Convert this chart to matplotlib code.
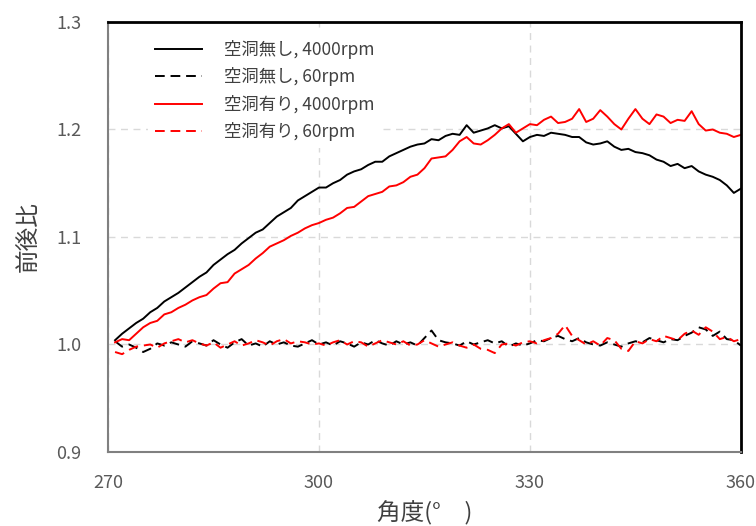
import numpy as np
import matplotlib
matplotlib.use("Agg")
import matplotlib.pyplot as plt

plt.rcParams['font.family'] = ['Noto Sans CJK JP', 'DejaVu Sans']

# angle (deg), 1 deg steps
angle = np.arange(271, 361)

black_4000 = [1.004, 1.010, 1.015, 1.020, 1.024, 1.030, 1.034, 1.040, 1.044, 1.048,
              1.053, 1.058, 1.063, 1.067, 1.074, 1.079, 1.084, 1.088, 1.094, 1.099,
              1.104, 1.107, 1.113, 1.119, 1.123, 1.127, 1.134, 1.138, 1.142, 1.146,
              1.146, 1.150, 1.153, 1.158, 1.161, 1.163, 1.167, 1.170, 1.170, 1.175,
              1.178, 1.181, 1.184, 1.186, 1.187, 1.191, 1.190, 1.194, 1.196, 1.195,
              1.204, 1.197, 1.199, 1.201, 1.204, 1.201, 1.203, 1.196, 1.189, 1.193,
              1.195, 1.194, 1.197, 1.196, 1.195, 1.193, 1.193, 1.188, 1.186, 1.187,
              1.189, 1.184, 1.181, 1.182, 1.179, 1.178, 1.176, 1.172, 1.170, 1.166,
              1.168, 1.164, 1.166, 1.161, 1.158, 1.156, 1.153, 1.148, 1.141, 1.145]

black_60 = [1.003, 0.998, 1.000, 0.997, 0.993, 0.996, 1.001, 0.999, 1.002, 1.000,
            0.998, 1.003, 1.001, 0.999, 1.004, 1.000, 0.997, 1.002, 1.005, 0.999,
            1.001, 0.998, 1.003, 1.000, 1.002, 0.999, 0.998, 1.001, 1.004, 1.000,
            1.002, 0.999, 1.003, 1.001, 0.998, 1.002, 1.000, 1.004, 1.001, 0.999,
            1.003, 1.000, 1.002, 0.999, 1.006, 1.013, 1.004, 1.002, 1.001, 0.999,
            1.003, 1.000, 1.002, 1.004, 1.001, 1.003, 0.998, 1.001, 0.999, 1.001,
            1.004, 1.003, 1.006, 1.008, 1.005, 1.003, 1.006, 1.002, 1.000, 0.999,
            1.002, 1.000, 0.998, 1.001, 1.003, 1.002, 1.006, 1.004, 1.002, 1.005,
            1.004, 1.008, 1.011, 1.016, 1.014, 1.008, 1.012, 1.005, 1.004, 0.999]

red_4000 = [1.002, 1.005, 1.004, 1.010, 1.016, 1.020, 1.022, 1.028, 1.030, 1.034,
            1.037, 1.041, 1.044, 1.046, 1.052, 1.057, 1.058, 1.066, 1.070, 1.074,
            1.080, 1.085, 1.091, 1.094, 1.097, 1.101, 1.104, 1.108, 1.111, 1.113,
            1.116, 1.118, 1.122, 1.127, 1.128, 1.133, 1.138, 1.140, 1.142, 1.147,
            1.148, 1.151, 1.156, 1.158, 1.164, 1.173, 1.174, 1.175, 1.181, 1.189,
            1.193, 1.187, 1.186, 1.190, 1.195, 1.201, 1.205, 1.197, 1.201, 1.205,
            1.204, 1.209, 1.212, 1.206, 1.207, 1.210, 1.219, 1.207, 1.210, 1.218,
            1.212, 1.205, 1.200, 1.210, 1.219, 1.210, 1.205, 1.214, 1.212, 1.206,
            1.209, 1.208, 1.217, 1.205, 1.199, 1.200, 1.197, 1.196, 1.193, 1.195]

red_60 = [0.993, 0.991, 0.995, 0.998, 0.999, 1.000, 0.997, 1.001, 1.003, 1.005,
          1.002, 1.004, 1.001, 0.999, 1.002, 0.997, 1.000, 1.003, 0.999, 1.001,
          1.004, 1.002, 0.999, 1.003, 1.005, 1.001, 1.003, 1.002, 1.000, 1.001,
          0.999, 1.002, 1.004, 1.000, 1.003, 1.002, 0.998, 1.001, 1.004, 1.002,
          1.000, 1.003, 0.999, 1.000, 1.004, 1.001, 0.998, 1.000, 1.002, 0.999,
          0.997, 1.000, 0.996, 0.995, 0.992, 1.000, 1.001, 0.999, 1.002, 1.003,
          1.001, 1.004, 1.006, 1.010, 1.018, 1.008, 1.004, 1.000, 1.003, 0.999,
          1.006, 1.004, 0.996, 0.994, 1.003, 1.001, 1.005, 1.003, 1.008, 1.006,
          1.004, 1.010, 1.013, 1.009, 1.016, 1.012, 1.005, 1.007, 1.003, 1.005]

labels = ['空洞無し, 4000rpm', '空洞無し, 60rpm', '空洞有り, 4000rpm', '空洞有り, 60rpm']
xticks = [270, 300, 330, 360]
yticks = [0.9, 1.0, 1.1, 1.2, 1.3]

fig = plt.figure(figsize=(7.56, 5.26), dpi=100)
ax = fig.add_axes([0.1429, 0.1407, 0.8371, 0.8175])

dash = (0, (5, 3))
ax.plot(angle, black_4000, color='black', lw=1.4, label=labels[0])
ax.plot(angle, black_60, color='black', lw=1.4, ls=dash, label=labels[1])
ax.plot(angle, red_4000, color='#ff0000', lw=1.4, label=labels[2])
ax.plot(angle, red_60, color='#ff0000', lw=1.4, ls=dash, label=labels[3])

ax.set_xlim(270, 360)
ax.set_ylim(0.9, 1.3)
ax.set_xticks(xticks)
ax.set_yticks(yticks)
ax.set_yticklabels(['%.1f' % v for v in yticks])
ax.grid(True, color='#d9d9d9', ls=(0, (5, 4)), lw=1.0)
ax.set_axisbelow(True)
ax.tick_params(length=0, labelsize=13, labelcolor='#595959')
ax.tick_params(axis='y', pad=19)
ax.tick_params(axis='x', pad=16)

ax.spines['left'].set_color('#808080')
ax.spines['bottom'].set_color('#808080')
ax.spines['left'].set_linewidth(1.5)
ax.spines['bottom'].set_linewidth(1.5)
ax.spines['top'].set_color('black')
ax.spines['right'].set_color('black')
ax.spines['top'].set_linewidth(2.0)
ax.spines['right'].set_linewidth(2.0)

ax.set_xlabel('角度(°\u2003)', fontsize=17, color='#404040', labelpad=6)
ax.set_ylabel('前後比', fontsize=17, color='#404040', labelpad=12)

leg = ax.legend(loc='upper left', bbox_to_anchor=(0.049, 0.995), frameon=True,
                fontsize=12.5, handlelength=2.7, handletextpad=1.27,
                labelspacing=0.49, borderpad=0.4)
leg.get_frame().set_edgecolor('none')
leg.get_frame().set_facecolor('white')
leg.get_frame().set_alpha(1.0)
for t in leg.get_texts():
    t.set_color('#404040')

fig.savefig('out.png', dpi=100)
